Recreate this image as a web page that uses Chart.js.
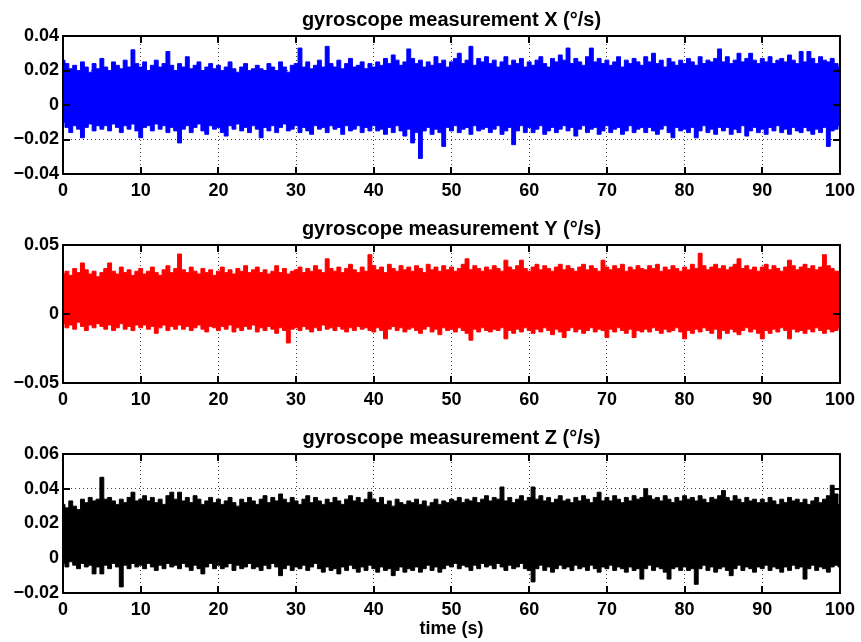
<!DOCTYPE html>
<html>
<head>
<meta charset="utf-8">
<title>gyroscope measurements</title>
<script src="https://cdn.jsdelivr.net/npm/chart.js@4.4.1/dist/chart.umd.min.js"></script>
<style>
  html, body { margin: 0; padding: 0; background: #fff; }
  #page { position: relative; width: 861px; height: 642px; overflow: hidden; }
  .panel { position: absolute; left: 0; }
</style>
</head>
<body>
<div id="page">
  <canvas id="gyro-x" class="panel" width="861" height="209" style="top:0px"></canvas>
  <canvas id="gyro-y" class="panel" width="861" height="209" style="top:209px"></canvas>
  <canvas id="gyro-z" class="panel" width="861" height="224" style="top:418px"></canvas>
</div>
<script>
/* ========================================
   DATA — gyroscope readings (°/s)
   The raw signal is too dense to read sample by sample, so each series is
   kept as its upper and lower envelope, read every 0.5 s off the plot.
   ======================================== */

const envelopeStep = 0.5;

const timeTicks = [0, 10, 20, 30, 40, 50, 60, 70, 80, 90, 100];
const timeTickLabels = ["0", "10", "20", "30", "40", "50", "60", "70", "80", "90", "100"];

const gyroXTicks = [-0.04, -0.02, 0, 0.02, 0.04];
const gyroXTickLabels = ["\u22120.04", "\u22120.02", "0", "0.02", "0.04"];
const gyroYTicks = [-0.05, 0, 0.05];
const gyroYTickLabels = ["\u22120.05", "0", "0.05"];
const gyroZTicks = [-0.02, 0, 0.02, 0.04, 0.06];
const gyroZTickLabels = ["\u22120.02", "0", "0.02", "0.04", "0.06"];

const gyroXUpper = [
  .026, .024, .021, .023, .020, .025, .022, .019, .024, .021,
  .027, .022, .020, .025, .023, .021, .026, .022, .032, .024,
  .022, .025, .020, .023, .026, .022, .024, .031, .023, .020,
  .024, .022, .028, .021, .023, .025, .020, .022, .024, .021,
  .023, .020, .022, .025, .021, .019, .022, .024, .020, .021,
  .023, .021, .020, .024, .022, .020, .025, .022, .019, .023,
  .024, .033, .022, .025, .021, .023, .026, .022, .034, .024,
  .022, .026, .021, .024, .027, .022, .023, .025, .021, .024,
  .022, .025, .023, .027, .024, .029, .026, .023, .025, .0325,
  .027, .024, .026, .022, .025, .023, .028, .024, .026, .022,
  .025, .027, .030, .024, .026, .034, .023, .027, .025, .028,
  .024, .026, .022, .025, .028, .023, .026, .024, .027, .022,
  .025, .023, .026, .028, .024, .022, .027, .025, .029, .026,
  .033, .024, .027, .025, .023, .028, .033, .025, .027, .024,
  .026, .023, .025, .028, .022, .026, .024, .027, .025, .023,
  .028, .025, .030, .024, .026, .022, .027, .025, .023, .026,
  .024, .027, .025, .023, .028, .024, .026, .025, .027, .0325,
  .025, .028, .024, .026, .030, .025, .027, .030, .026, .024,
  .027, .025, .028, .024, .026, .027, .025, .029, .026, .024,
  .031, .025, .031, .027, .024, .028, .026, .025, .027, .024,
  .022
];

const gyroXLower = [
  -.010, -.013, -.016, -.012, -.014, -.019, -.013, -.011, -.015, -.012,
  -.014, -.012, -.015, -.011, -.013, -.016, -.012, -.014, -.011, -.015,
  -.019, -.013, -.012, -.015, -.011, -.014, -.012, -.016, -.013, -.015,
  -.022, -.014, -.012, -.016, -.013, -.011, -.015, -.017, -.012, -.014,
  -.013, -.016, -.018, -.012, -.014, -.011, -.015, -.013, -.016, -.012,
  -.014, -.019, -.013, -.015, -.012, -.016, -.013, -.011, -.015, -.014,
  -.012, -.016, -.013, -.015, -.017, -.012, -.014, -.013, -.016, -.012,
  -.014, -.013, -.017, -.012, -.015, -.014, -.012, -.016, -.013, -.015,
  -.012, -.015, -.014, -.017, -.013, -.016, -.012, -.015, -.018, -.014,
  -.022, -.016, -.031, -.015, -.013, -.017, -.014, -.016, -.024, -.013,
  -.015, -.012, -.016, -.014, -.013, -.017, -.012, -.015, -.014, -.013,
  -.016, -.014, -.012, -.017, -.015, -.013, -.023, -.015, -.012, -.016,
  -.013, -.016, -.014, -.012, -.017, -.015, -.013, -.016, -.014, -.012,
  -.015, -.013, -.018, -.014, -.012, -.016, -.014, -.013, -.017, -.015,
  -.012, -.016, -.014, -.013, -.017, -.015, -.012, -.016, -.014, -.013,
  -.016, -.013, -.015, -.017, -.014, -.012, -.016, -.019, -.013, -.015,
  -.014, -.016, -.013, -.019, -.015, -.012, -.016, -.014, -.017, -.013,
  -.015, -.013, -.017, -.014, -.016, -.012, -.018, -.015, -.013, -.016,
  -.014, -.017, -.013, -.015, -.012, -.016, -.014, -.017, -.013, -.015,
  -.016, -.013, -.015, -.017, -.014, -.016, -.013, -.024, -.015, -.014,
  -.012
];

const gyroYUpper = [
  .029, .031, .028, .033, .030, .037, .032, .029, .031, .027,
  .030, .033, .037, .031, .029, .034, .030, .032, .028, .031,
  .033, .029, .031, .034, .030, .028, .032, .035, .030, .033,
  .0435, .032, .030, .034, .031, .029, .033, .030, .032, .028,
  .031, .034, .030, .032, .029, .033, .031, .035, .030, .032,
  .034, .030, .032, .029, .031, .035, .030, .033, .029, .031,
  .032, .034, .030, .033, .031, .035, .032, .030, .040, .033,
  .031, .034, .030, .033, .036, .032, .030, .034, .031, .043,
  .035, .032, .034, .030, .036, .033, .031, .035, .032, .034,
  .031, .035, .033, .030, .036, .032, .034, .031, .035, .032,
  .034, .031, .033, .036, .040, .032, .035, .033, .031, .034,
  .032, .035, .033, .031, .039, .034, .032, .035, .039, .033,
  .031, .034, .036, .032, .035, .033, .031, .034, .036, .032,
  .035, .033, .031, .034, .036, .032, .035, .033, .031, .039,
  .034, .032, .035, .033, .036, .031, .034, .032, .035, .033,
  .032, .035, .033, .036, .031, .034, .032, .035, .033, .031,
  .034, .032, .036, .033, .044, .035, .032, .034, .036, .033,
  .035, .032, .034, .036, .040, .033, .035, .032, .034, .031,
  .034, .036, .032, .035, .033, .031, .034, .039, .035, .032,
  .034, .036, .033, .035, .032, .034, .043, .035, .033, .031,
  .031
];

const gyroYLower = [
  -.007, -.010, -.008, -.011, -.006, -.009, -.012, -.008, -.010, -.007,
  -.009, -.011, -.008, -.012, -.010, -.007, -.011, -.009, -.012, -.008,
  -.010, -.008, -.011, -.009, -.014, -.010, -.008, -.012, -.009, -.011,
  -.008, -.011, -.009, -.012, -.010, -.008, -.011, -.013, -.009, -.010,
  -.012, -.009, -.011, -.008, -.013, -.010, -.012, -.009, -.011, -.008,
  -.013, -.010, -.012, -.009, -.011, -.014, -.010, -.012, -.021, -.011,
  -.010, -.012, -.009, -.011, -.013, -.010, -.012, -.008, -.011, -.010,
  -.012, -.009, -.011, -.013, -.010, -.012, -.009, -.011, -.010, -.012,
  -.013, -.010, -.012, -.018, -.011, -.009, -.012, -.010, -.013, -.011,
  -.010, -.012, -.014, -.011, -.009, -.013, -.011, -.015, -.010, -.012,
  -.011, -.013, -.010, -.012, -.014, -.019, -.011, -.013, -.010, -.012,
  -.013, -.011, -.012, -.010, -.018, -.012, -.014, -.011, -.013, -.010,
  -.012, -.014, -.011, -.013, -.010, -.012, -.015, -.011, -.013, -.017,
  -.012, -.010, -.013, -.011, -.014, -.012, -.010, -.013, -.011, -.012,
  -.017, -.011, -.013, -.010, -.012, -.014, -.011, -.017, -.012, -.013,
  -.011, -.013, -.010, -.012, -.014, -.011, -.013, -.012, -.010, -.013,
  -.018, -.012, -.014, -.011, -.013, -.010, -.012, -.014, -.011, -.018,
  -.012, -.014, -.011, -.013, -.015, -.012, -.010, -.013, -.011, -.014,
  -.018, -.012, -.014, -.011, -.013, -.010, -.012, -.018, -.011, -.013,
  -.012, -.014, -.011, -.013, -.010, -.012, -.014, -.011, -.013, -.012,
  -.010
];

const gyroZUpper = [
  .031, .029, .033, .030, .028, .034, .032, .035, .033, .034,
  .0466, .034, .035, .033, .031, .034, .032, .035, .038, .033,
  .034, .036, .033, .035, .032, .034, .031, .036, .038, .034,
  .038, .033, .035, .032, .036, .034, .031, .033, .035, .032,
  .034, .031, .033, .035, .032, .030, .034, .032, .035, .033,
  .031, .034, .036, .032, .035, .033, .037, .034, .032, .035,
  .033, .031, .034, .036, .032, .035, .033, .031, .034, .032,
  .035, .033, .031, .034, .036, .033, .035, .032, .034, .038,
  .034, .032, .035, .031, .033, .030, .034, .032, .031, .033,
  .032, .034, .031, .033, .030, .032, .034, .031, .033, .032,
  .034, .033, .035, .032, .034, .033, .035, .032, .034, .036,
  .033, .035, .034, .041, .033, .035, .032, .034, .036, .033,
  .035, .041, .034, .036, .033, .035, .032, .034, .036, .033,
  .034, .032, .035, .033, .036, .034, .032, .035, .038, .033,
  .035, .033, .036, .034, .032, .035, .033, .036, .034, .035,
  .040, .036, .034, .035, .033, .036, .034, .032, .035, .033,
  .036, .034, .035, .033, .036, .034, .032, .035, .034, .036,
  .039, .035, .033, .036, .034, .032, .035, .033, .034, .032,
  .034, .032, .035, .033, .031, .034, .032, .035, .033, .034,
  .032, .034, .031, .033, .035, .032, .034, .036, .042, .037,
  .031
];

const gyroZLower = [
  -.003, -.005, -.002, -.004, -.006, -.003, -.005, -.004, -.009, -.005,
  -.009, -.004, -.006, -.003, -.005, -.0165, -.004, -.006, -.003, -.005,
  -.004, -.006, -.003, -.005, -.007, -.004, -.006, -.003, -.005, -.004,
  -.006, -.003, -.005, -.007, -.004, -.006, -.009, -.005, -.003, -.006,
  -.004, -.006, -.005, -.003, -.007, -.004, -.006, -.005, -.003, -.006,
  -.005, -.007, -.004, -.006, -.003, -.005, -.010, -.006, -.004, -.007,
  -.005, -.006, -.004, -.007, -.005, -.003, -.006, -.008, -.005, -.007,
  -.006, -.009, -.005, -.007, -.004, -.006, -.008, -.005, -.007, -.004,
  -.006, -.008, -.005, -.007, -.006, -.010, -.007, -.005, -.008, -.006,
  -.007, -.005, -.008, -.006, -.004, -.007, -.005, -.008, -.006, -.004,
  -.005, -.003, -.006, -.004, -.005, -.007, -.004, -.006, -.003, -.005,
  -.004, -.006, -.003, -.005, -.007, -.004, -.006, -.005, -.003, -.006,
  -.007, -.0136, -.006, -.004, -.007, -.005, -.008, -.006, -.004, -.006,
  -.005, -.007, -.004, -.006, -.005, -.007, -.004, -.006, -.008, -.005,
  -.006, -.004, -.007, -.005, -.006, -.008, -.005, -.007, -.006, -.012,
  -.006, -.004, -.007, -.005, -.006, -.008, -.012, -.006, -.005, -.007,
  -.005, -.007, -.006, -.015, -.006, -.004, -.007, -.005, -.008, -.006,
  -.005, -.007, -.010, -.006, -.004, -.007, -.005, -.006, -.008, -.005,
  -.006, -.004, -.007, -.005, -.006, -.008, -.005, -.007, -.004, -.006,
  -.005, -.012, -.006, -.004, -.007, -.005, -.006, -.008, -.005, -.004,
  -.005
];

/* ========================================
   STYLE
   ======================================== */

const FONT_FAMILY = "'Liberation Sans', Arial, Helvetica, sans-serif";
const TICK_FONT = { family: FONT_FAMILY, size: 18, weight: "bold" };
const TITLE_FONT = { family: FONT_FAMILY, size: 20, weight: "bold" };
const GRID_COLOR = "rgba(0, 0, 0, 0.75)";

/**
 * Box round the plot area with inward tick marks on all four sides.
 */
const axesBox = {
  id: "axesBox",
  afterDatasetsDraw(chart) {
    const { ctx, chartArea: a, scales } = chart;
    const len = 7;

    ctx.save();
    ctx.strokeStyle = "#000";
    ctx.lineWidth = 2;
    ctx.beginPath();
    scales.x.ticks.forEach((t) => {
      const px = Math.round(scales.x.getPixelForValue(t.value));
      ctx.moveTo(px, a.top);
      ctx.lineTo(px, a.top + len);
      ctx.moveTo(px, a.bottom);
      ctx.lineTo(px, a.bottom - len);
    });
    scales.y.ticks.forEach((t) => {
      const py = Math.round(scales.y.getPixelForValue(t.value));
      ctx.moveTo(a.left, py);
      ctx.lineTo(a.left + len, py);
      ctx.moveTo(a.right, py);
      ctx.lineTo(a.right - len, py);
    });
    ctx.stroke();
    ctx.strokeRect(a.left, a.top, a.right - a.left, a.bottom - a.top);
    ctx.restore();
  },
};

/**
 * Build one gyroscope panel: the band between the upper and lower envelope.
 */
function makePanel(canvasId, title, upper, lower, color, yTicks, yTickLabels, axisHeight, xTitle) {
  const toPoints = (values) => values.map((v, i) => ({ x: i * envelopeStep, y: v }));
  const bandLine = {
    borderColor: color,
    backgroundColor: color,
    borderWidth: 1,
    pointRadius: 0,
    stepped: "middle",
  };

  return new Chart(document.getElementById(canvasId), {
    type: "line",
    data: {
      datasets: [
        { ...bandLine, data: toPoints(upper), fill: "+1" },
        { ...bandLine, data: toPoints(lower), fill: false },
      ],
    },
    plugins: [axesBox],
    options: {
      responsive: false,
      animation: false,
      events: [],
      layout: { padding: { left: 0, right: 18, top: 0, bottom: 0 } },
      plugins: {
        legend: { display: false },
        tooltip: { enabled: false },
        title: {
          display: true,
          text: title,
          color: "#000",
          font: TITLE_FONT,
          fullSize: false,
          padding: { top: 8, bottom: 4 },
        },
      },
      scales: {
        x: {
          type: "linear",
          min: timeTicks[0],
          max: timeTicks[timeTicks.length - 1],
          afterBuildTicks: (scale) => {
            scale.ticks = timeTicks.map((v) => ({ value: v }));
          },
          afterFit: (scale) => {
            scale.height = axisHeight;
          },
          ticks: {
            color: "#000",
            font: TICK_FONT,
            padding: 6,
            maxRotation: 0,
            autoSkip: false,
            callback: (val, idx) => timeTickLabels[idx],
          },
          grid: { color: GRID_COLOR, lineWidth: 1, drawTicks: false },
          border: { display: false, dash: [1, 3] },
          title: {
            display: !!xTitle,
            text: xTitle || "",
            color: "#000",
            font: TICK_FONT,
            padding: { top: 0, bottom: 2 },
          },
        },
        y: {
          min: yTicks[0],
          max: yTicks[yTicks.length - 1],
          afterBuildTicks: (scale) => {
            scale.ticks = yTicks.map((v) => ({ value: v }));
          },
          afterFit: (scale) => {
            scale.width = 63;
          },
          ticks: {
            color: "#000",
            font: TICK_FONT,
            padding: 4,
            autoSkip: false,
            callback: (val, idx) => yTickLabels[idx],
          },
          grid: { color: GRID_COLOR, lineWidth: 1, drawTicks: false },
          border: { display: false, dash: [1, 3] },
        },
      },
    },
  });
}

makePanel("gyro-x", "gyroscope measurement X (\u00b0/s)", gyroXUpper, gyroXLower, "#0000ff",
  gyroXTicks, gyroXTickLabels, 35);
makePanel("gyro-y", "gyroscope measurement Y (\u00b0/s)", gyroYUpper, gyroYLower, "#ff0000",
  gyroYTicks, gyroYTickLabels, 35);
makePanel("gyro-z", "gyroscope measurement Z (\u00b0/s)", gyroZUpper, gyroZLower, "#000000",
  gyroZTicks, gyroZTickLabels, 49, "time (s)");
</script>
</body>
</html>
